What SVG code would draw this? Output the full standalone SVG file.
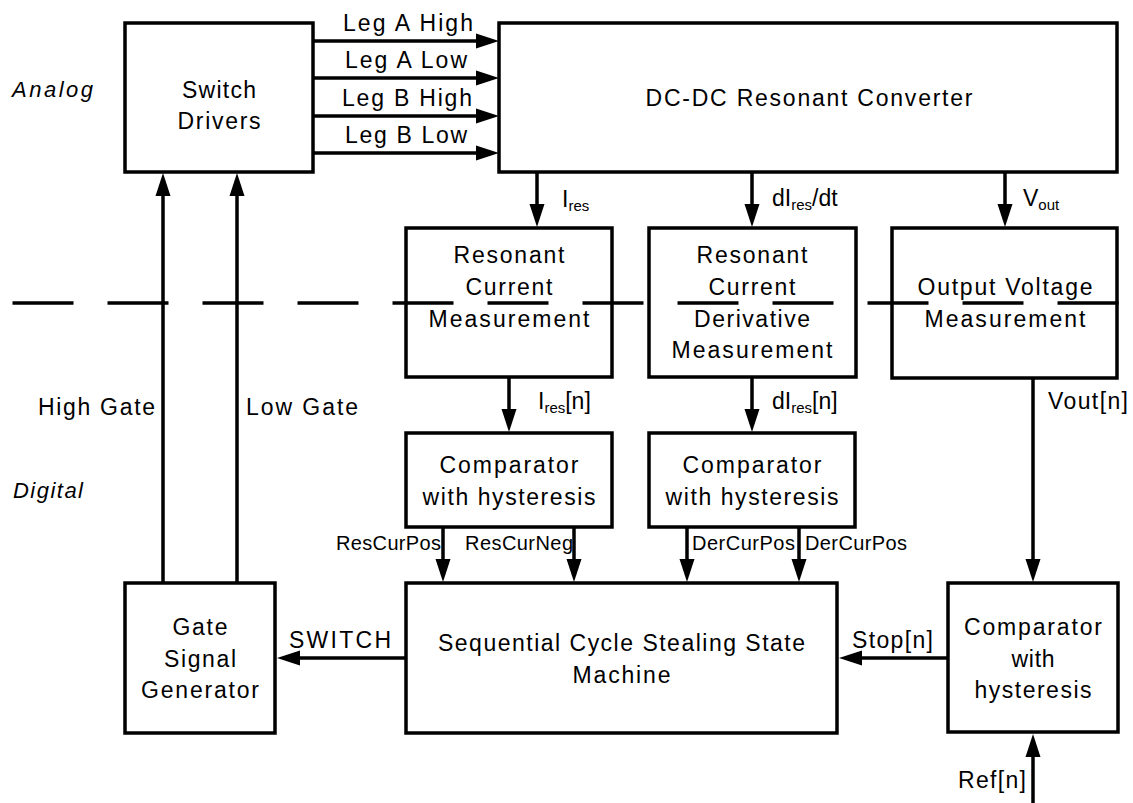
<svg xmlns="http://www.w3.org/2000/svg" width="1133" height="803" viewBox="0 0 1133 803">
<style>
text{font-family:"Liberation Sans",Arial,sans-serif;font-size:23px;fill:#000}
.c{text-anchor:middle}
.i{font-style:italic;font-size:22px}
.s{font-size:20px}
.sub{font-size:15px}
.box{fill:#fff;stroke:#000;stroke-width:3.5;stroke-linejoin:miter}
.ln{fill:none;stroke:#000;stroke-width:3.5}
.dash{fill:none;stroke:#000;stroke-width:3.5;stroke-dasharray:61 34}
</style>
<defs>
<marker id="ah" markerUnits="userSpaceOnUse" markerWidth="24" markerHeight="16" refX="0" refY="7.5" orient="auto" overflow="visible">
<path d="M0,0 L23,7.5 L0,15 Z" fill="#000"/>
</marker>
</defs>
<rect width="1133" height="803" fill="#fff"/>

<text class="i" x="12" y="97" textLength="81">Analog</text>
<text class="i" x="13" y="498" textLength="70">Digital</text>

<g id="switch-drivers">
<rect class="box" x="125" y="23" width="188" height="149"/>
<text class="c" x="219" y="98" textLength="74">Switch</text>
<text class="c" x="219" y="129" textLength="83">Drivers</text>
</g>
<g id="dcdc">
<rect class="box" x="499" y="23" width="618" height="149"/>
<text class="c" x="809" y="106" textLength="327">DC-DC Resonant Converter</text>
</g>
<g id="res-current-meas">
<rect class="box" x="406" y="228" width="206" height="149"/>
<text class="c" x="509" y="263" textLength="111">Resonant</text>
<text class="c" x="509" y="295" textLength="87">Current</text>
<text class="c" x="509" y="327" textLength="161">Measurement</text>
</g>
<g id="res-deriv-meas">
<rect class="box" x="649" y="228" width="207" height="149"/>
<text class="c" x="752" y="263" textLength="111">Resonant</text>
<text class="c" x="752" y="295" textLength="87">Current</text>
<text class="c" x="752" y="327" textLength="116">Derivative</text>
<text class="c" x="752" y="358" textLength="161">Measurement</text>
</g>
<g id="vout-meas">
<rect class="box" x="892" y="228" width="225" height="150"/>
<text class="c" x="1005" y="295" textLength="175">Output Voltage</text>
<text class="c" x="1005" y="327" textLength="161">Measurement</text>
</g>
<g id="comp-res">
<rect class="box" x="406" y="433" width="206" height="94"/>
<text class="c" x="509" y="473" textLength="139">Comparator</text>
<text class="c" x="509" y="505" textLength="173">with hysteresis</text>
</g>
<g id="comp-der">
<rect class="box" x="649" y="433" width="206" height="94"/>
<text class="c" x="752" y="473" textLength="139">Comparator</text>
<text class="c" x="752" y="505" textLength="173">with hysteresis</text>
</g>
<g id="gate-gen">
<rect class="box" x="125" y="583" width="150" height="150"/>
<text class="c" x="200" y="635" textLength="55">Gate</text>
<text class="c" x="200" y="667" textLength="72">Signal</text>
<text class="c" x="200" y="698" textLength="118">Generator</text>
</g>
<g id="state-machine">
<rect class="box" x="406" y="583" width="431" height="150"/>
<text class="c" x="621.5" y="651" textLength="367">Sequential Cycle Stealing State</text>
<text class="c" x="621.5" y="683" textLength="98">Machine</text>
</g>
<g id="comp-vout">
<rect class="box" x="948" y="583" width="170" height="149"/>
<text class="c" x="1033" y="635" textLength="138">Comparator</text>
<text class="c" x="1033" y="667" textLength="43">with</text>
<text class="c" x="1033" y="698" textLength="117">hysteresis</text>
</g>

<g id="connectors">
<line class="ln" x1="313" y1="41" x2="476" y2="41" marker-end="url(#ah)"/>
<line class="ln" x1="313" y1="78" x2="476" y2="78" marker-end="url(#ah)"/>
<line class="ln" x1="313" y1="116" x2="476" y2="116" marker-end="url(#ah)"/>
<line class="ln" x1="313" y1="153" x2="476" y2="153" marker-end="url(#ah)"/>
<line class="ln" x1="163" y1="583" x2="163" y2="196" marker-end="url(#ah)"/>
<line class="ln" x1="237" y1="583" x2="237" y2="196" marker-end="url(#ah)"/>
<line class="ln" x1="537" y1="172" x2="537" y2="204" marker-end="url(#ah)"/>
<line class="ln" x1="752" y1="172" x2="752" y2="204" marker-end="url(#ah)"/>
<line class="ln" x1="1005" y1="172" x2="1005" y2="204" marker-end="url(#ah)"/>
<line class="ln" x1="509" y1="377" x2="509" y2="409" marker-end="url(#ah)"/>
<line class="ln" x1="752" y1="377" x2="752" y2="409" marker-end="url(#ah)"/>
<line class="ln" x1="1033" y1="378" x2="1033" y2="559" marker-end="url(#ah)"/>
<line class="ln" x1="443" y1="527" x2="443" y2="559" marker-end="url(#ah)"/>
<line class="ln" x1="574" y1="527" x2="574" y2="559" marker-end="url(#ah)"/>
<line class="ln" x1="687" y1="527" x2="687" y2="559" marker-end="url(#ah)"/>
<line class="ln" x1="799" y1="527" x2="799" y2="559" marker-end="url(#ah)"/>
<line class="ln" x1="406" y1="658" x2="300" y2="658" marker-end="url(#ah)"/>
<line class="ln" x1="948" y1="658" x2="862" y2="658" marker-end="url(#ah)"/>
<line class="ln" x1="1033" y1="803" x2="1033" y2="757" marker-end="url(#ah)"/>

<text x="343" y="31" textLength="130">Leg A High</text>
<text x="345" y="68" textLength="122">Leg A Low</text>
<text x="342" y="106" textLength="130">Leg B High</text>
<text x="345" y="143" textLength="122">Leg B Low</text>
<text x="38" y="415" textLength="117">High Gate</text>
<text x="246" y="415" textLength="112">Low Gate</text>
<text x="562" y="207">I<tspan class="sub" dy="4">res</tspan></text>
<text x="772" y="206">dI<tspan class="sub" dy="4">res</tspan><tspan dy="-4">/dt</tspan></text>
<text x="1023" y="206">V<tspan class="sub" dy="4">out</tspan></text>
<text x="538" y="409">I<tspan class="sub" dy="4">res</tspan><tspan dy="-4">[n]</tspan></text>
<text x="772" y="409">dI<tspan class="sub" dy="4">res</tspan><tspan dy="-4">[n]</tspan></text>
<text x="1048" y="409" textLength="80">Vout[n]</text>
<text class="s" x="336" y="550" textLength="105">ResCurPos</text>
<text class="s" x="465" y="550" textLength="108">ResCurNeg</text>
<text class="s" x="692" y="550" textLength="103">DerCurPos</text>
<text class="s" x="805" y="550" textLength="102">DerCurPos</text>
<text x="289" y="648" textLength="102">SWITCH</text>
<text x="852" y="648" textLength="81">Stop[n]</text>
<text x="958" y="788" textLength="68">Ref[n]</text>
</g>

<line class="dash" x1="12.5" y1="303" x2="1118.5" y2="303"/>
</svg>
